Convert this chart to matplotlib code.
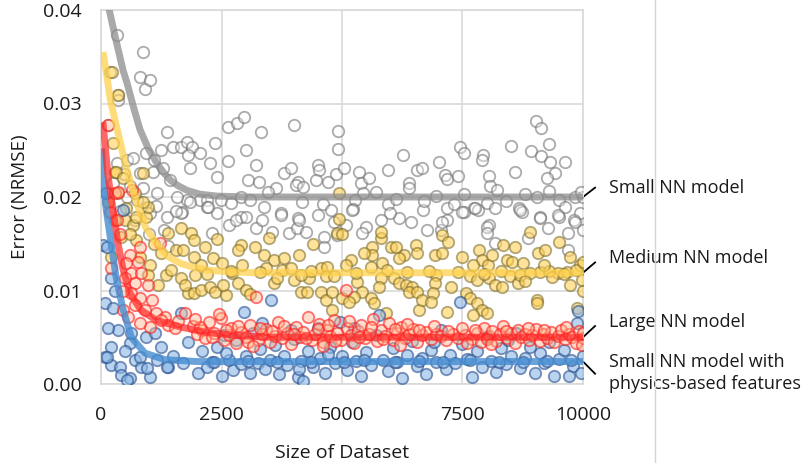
import numpy as np
import matplotlib
matplotlib.use("Agg")
import matplotlib.pyplot as plt
from matplotlib.lines import Line2D

plt.rcParams['font.family'] = ['Open Sans', 'DejaVu Sans']

# scatter data per model: (dataset size, NRMSE)
small_pts = [
    (150, 0.0277), (190, 0.0334), (330, 0.0373), (350, 0.0309), (350, 0.0304), (810, 0.0328),
    (875, 0.0355), (920, 0.0316), (1020, 0.0325), (1370, 0.0269), (935, 0.0247), (330, 0.0236),
    (540, 0.0240), (670, 0.0242), (810, 0.0226), (1080, 0.0227), (1290, 0.0231), (1440, 0.0218),
    (1500, 0.0254), (1650, 0.0254), (1790, 0.0259), (1890, 0.0254), (1810, 0.0245), (2060, 0.0247),
    (1850, 0.0231), (2375, 0.0258), (2625, 0.0275), (2830, 0.0279), (2960, 0.0286), (3310, 0.0270),
    (3000, 0.0250), (3210, 0.0234), (3040, 0.0218), (3270, 0.0216), (2270, 0.0236), (2410, 0.0221),
    (2625, 0.0238), (2060, 0.0197), (2190, 0.0197), (2480, 0.0197), (2690, 0.0194), (1790, 0.0197),
    (3625, 0.0210), (3790, 0.0226), (4000, 0.0277), (3940, 0.0231), (4080, 0.0216), (3460, 0.0205),
    (3375, 0.0189), (3730, 0.0183), (2900, 0.0179), (4080, 0.0178), (2410, 0.0183), (2190, 0.0189),
    (1580, 0.0200), (1690, 0.0184), (1370, 0.0179), (1020, 0.0183), (750, 0.0197), (875, 0.0210),
    (1160, 0.0204), (4920, 0.0271), (4920, 0.0251), (4040, 0.0213), (4190, 0.0211), (4500, 0.0234),
    (4520, 0.0229), (4460, 0.0218), (4710, 0.0216), (4880, 0.0225), (5040, 0.0231), (5350, 0.0227),
    (5400, 0.0215), (5560, 0.0220), (5440, 0.0204), (5270, 0.0197), (5960, 0.0229), (6270, 0.0245),
    (6400, 0.0215), (6400, 0.0210), (6560, 0.0229), (6650, 0.0231), (7020, 0.0237), (7130, 0.0224),
    (7170, 0.0219), (7400, 0.0222), (7440, 0.0254), (7540, 0.0247), (7920, 0.0245), (7900, 0.0240),
    (8040, 0.0222), (8080, 0.0212), (8210, 0.0207), (8500, 0.0255), (8580, 0.0227), (8920, 0.0249),
    (9020, 0.0281), (9120, 0.0274), (9120, 0.0244), (9290, 0.0257), (9310, 0.0237), (9420, 0.0226),
    (9250, 0.0220), (9620, 0.0237), (9290, 0.0206), (9040, 0.0200), (9830, 0.0200), (6940, 0.0201),
    (7540, 0.0203), (5960, 0.0193), (6120, 0.0198), (4170, 0.0195), (4600, 0.0193), (4500, 0.0181),
    (4770, 0.0186), (5230, 0.0187), (4830, 0.0173), (6190, 0.0178), (6440, 0.0173), (6690, 0.0186),
    (7170, 0.0188), (7330, 0.0193), (7540, 0.0184), (7730, 0.0188), (7830, 0.0186), (8000, 0.0194),
    (8170, 0.0188), (8670, 0.0188), (8730, 0.0184), (9100, 0.0179), (9500, 0.0197), (9620, 0.0189),
    (9500, 0.0179), (9940, 0.0183), (9810, 0.0175), (8040, 0.0170), (7170, 0.0175), (1660, 0.0183),
    (2650, 0.0170), (2810, 0.0175), (3000, 0.0179), (3210, 0.0167), (2230, 0.0189), (1850, 0.0195),
    (3730, 0.0181), (3900, 0.0162), (4060, 0.0167), (4250, 0.0163), (4100, 0.0175), (3330, 0.0175),
    (4630, 0.0157), (4630, 0.0147), (4900, 0.0159), (5500, 0.0168), (5420, 0.0162), (5080, 0.0170),
    (5210, 0.0186), (6770, 0.0165), (7060, 0.0165), (7080, 0.0173), (7500, 0.0184), (8000, 0.0168),
    (8000, 0.0162), (8170, 0.0151), (7750, 0.0188), (9100, 0.0178), (9270, 0.0167), (9480, 0.0181),
    (9690, 0.0162), (9830, 0.0173), (10000, 0.0165), (8690, 0.0186), (9690, 0.0143), (8850, 0.0156),
    (400, 0.0185), (530, 0.0200), (700, 0.0175), (1000, 0.0160), (1150, 0.0190), (1300, 0.0165),
    (1400, 0.0148), (1550, 0.0185), (600, 0.0212), (250, 0.0215), (1250, 0.0250), (1100, 0.0240),
    (470, 0.0225), (2900, 0.0200), (3100, 0.0197), (5700, 0.0205), (6000, 0.0183), (6700, 0.0196),
    (8400, 0.0196), (8800, 0.0203), (10000, 0.0200), (9950, 0.0205), (5800, 0.0175), (3550, 0.0163),
    (2300, 0.0162),
]

medium_pts = [
    (230, 0.0334), (350, 0.0309), (290, 0.0227), (875, 0.0226), (250, 0.0258), (320, 0.0227),
    (520, 0.0188), (500, 0.0175), (670, 0.0170), (730, 0.0179), (940, 0.0179), (980, 0.0189),
    (1400, 0.0162), (1350, 0.0117), (1560, 0.0143), (1020, 0.0127), (980, 0.0117), (1190, 0.0106),
    (410, 0.0157), (210, 0.0136), (730, 0.0154), (810, 0.0136), (350, 0.0204), (710, 0.0204),
    (1460, 0.0122), (150, 0.0195), (450, 0.0220), (600, 0.0160), (1100, 0.0150), (1250, 0.0140),
    (880, 0.0195), (300, 0.0175), (1660, 0.0167), (1875, 0.0162), (1920, 0.0154), (1710, 0.0143),
    (1920, 0.0136), (1660, 0.0113), (2080, 0.0127), (2330, 0.0135), (2500, 0.0129), (2900, 0.0149),
    (2850, 0.0143), (2920, 0.0127), (2710, 0.0119), (1810, 0.0097), (1920, 0.0097), (2080, 0.0101),
    (2270, 0.0104), (2375, 0.0098), (2600, 0.0095), (2540, 0.0106), (2850, 0.0108), (3000, 0.0101),
    (1750, 0.0106), (3100, 0.0096), (3480, 0.0156), (3375, 0.0138), (3580, 0.0133), (3790, 0.0135),
    (4100, 0.0138), (3420, 0.0124), (3750, 0.0122), (3940, 0.0124), (3580, 0.0108), (3650, 0.0113),
    (4000, 0.0111), (4310, 0.0113), (4150, 0.0117), (4560, 0.0124), (4690, 0.0125), (4670, 0.0115),
    (4830, 0.0115), (4150, 0.0098), (4270, 0.0098), (4560, 0.0098), (4670, 0.0090), (4790, 0.0098),
    (4790, 0.0079), (4940, 0.0204), (4940, 0.0176), (4900, 0.0162), (5000, 0.0160), (5620, 0.0147),
    (5810, 0.0156), (5620, 0.0138), (6020, 0.0147), (6120, 0.0146), (6290, 0.0138), (6190, 0.0135),
    (6540, 0.0149), (6560, 0.0140), (5190, 0.0133), (5080, 0.0127), (5600, 0.0125), (5830, 0.0129),
    (5940, 0.0122), (5810, 0.0113), (5770, 0.0104), (6080, 0.0113), (6190, 0.0108), (6330, 0.0106),
    (6460, 0.0104), (6400, 0.0098), (6560, 0.0098), (5310, 0.0109), (5420, 0.0098), (5250, 0.0093),
    (5000, 0.0092), (5150, 0.0088), (5600, 0.0092), (5670, 0.0087), (5920, 0.0076), (6600, 0.0079),
    (5810, 0.0163), (7080, 0.0159), (7190, 0.0152), (6920, 0.0138), (7080, 0.0140), (7500, 0.0136),
    (7850, 0.0143), (7900, 0.0133), (7710, 0.0127), (8020, 0.0127), (8120, 0.0138), (7650, 0.0115),
    (7810, 0.0111), (8060, 0.0113), (8170, 0.0106), (6960, 0.0117), (6920, 0.0108), (6880, 0.0097),
    (7270, 0.0104), (6670, 0.0090), (6850, 0.0088), (7170, 0.0077), (7580, 0.0097), (7650, 0.0092),
    (7810, 0.0087), (7900, 0.0079), (8000, 0.0076), (7710, 0.0074), (8580, 0.0146), (8420, 0.0133),
    (8520, 0.0131), (8750, 0.0129), (9060, 0.0140), (9210, 0.0143), (9730, 0.0136), (9940, 0.0127),
    (8480, 0.0115), (8650, 0.0108), (8690, 0.0117), (9100, 0.0120), (9480, 0.0119), (9670, 0.0120),
    (9730, 0.0106), (9980, 0.0111), (8310, 0.0104), (9040, 0.0090), (9040, 0.0087), (9870, 0.0081),
    (3300, 0.0120), (4350, 0.0121), (5300, 0.0119), (6800, 0.0121), (7400, 0.0120), (8300, 0.0121),
    (8900, 0.0119), (9300, 0.0121), (9600, 0.0118), (9850, 0.0122), (2200, 0.0118), (2700, 0.0121),
    (1950, 0.0117), (6350, 0.0120), (7950, 0.0118), (8800, 0.0110), (9350, 0.0114), (9200, 0.0127),
    (2400, 0.0155), (3200, 0.0146), (2150, 0.0146), (5450, 0.0140), (4400, 0.0150), (8350, 0.0149),
    (9500, 0.0152), (8900, 0.0163), (10000, 0.0100), (10000, 0.0131),
]

large_pts = [
    (150, 0.0277), (650, 0.0207), (290, 0.0204), (190, 0.0184), (350, 0.0205), (1230, 0.0151),
    (810, 0.0147), (600, 0.0138), (520, 0.0129), (770, 0.0130), (210, 0.0124), (630, 0.0119),
    (830, 0.0119), (980, 0.0106), (500, 0.0113), (710, 0.0108), (630, 0.0097), (810, 0.0092),
    (460, 0.0079), (560, 0.0072), (920, 0.0079), (1150, 0.0076), (1330, 0.0072), (1400, 0.0063),
    (1540, 0.0060), (1020, 0.0061), (810, 0.0065), (400, 0.0160), (330, 0.0175), (450, 0.0100),
    (700, 0.0085), (1050, 0.0090), (1250, 0.0068), (1600, 0.0067), (1750, 0.0076), (1900, 0.0062),
    (2100, 0.0058), (2000, 0.0053), (2150, 0.0049), (2250, 0.0066), (2350, 0.0055), (2480, 0.0071),
    (2550, 0.0047), (2650, 0.0052), (2700, 0.0060), (2800, 0.0044), (2900, 0.0056), (3000, 0.0050),
    (3100, 0.0063), (3210, 0.0093), (3250, 0.0047), (3350, 0.0054), (3420, 0.0059), (3500, 0.0045),
    (3600, 0.0051), (3680, 0.0066), (3750, 0.0049), (3850, 0.0055), (3950, 0.0043), (4050, 0.0061),
    (4120, 0.0050), (4200, 0.0056), (4300, 0.0072), (4380, 0.0047), (4450, 0.0053), (4520, 0.0064),
    (4600, 0.0045), (4680, 0.0058), (4750, 0.0051), (4830, 0.0068), (4900, 0.0055), (4980, 0.0047),
    (5080, 0.0101), (5100, 0.0060), (5180, 0.0052), (5250, 0.0044), (5330, 0.0057), (5400, 0.0063),
    (5480, 0.0049), (5550, 0.0054), (5650, 0.0070), (5720, 0.0046), (5800, 0.0058), (5900, 0.0051),
    (5980, 0.0065), (6050, 0.0047), (6150, 0.0055), (6230, 0.0061), (6300, 0.0049), (6400, 0.0053),
    (6480, 0.0059), (6550, 0.0045), (6650, 0.0052), (6750, 0.0056), (6850, 0.0048), (6950, 0.0054),
    (7050, 0.0051), (7150, 0.0047), (7300, 0.0053), (7400, 0.0049), (7550, 0.0052), (7700, 0.0048),
    (7800, 0.0055), (7880, 0.0045), (7950, 0.0060), (8050, 0.0051), (8120, 0.0057), (8200, 0.0046),
    (8280, 0.0053), (8350, 0.0062), (8430, 0.0049), (8500, 0.0055), (8580, 0.0044), (8650, 0.0058),
    (8720, 0.0050), (8800, 0.0054), (8880, 0.0047), (8950, 0.0052), (9030, 0.0059), (9100, 0.0046),
    (9180, 0.0053), (9250, 0.0049), (9330, 0.0056), (9400, 0.0045), (9480, 0.0051), (9550, 0.0058),
    (9630, 0.0048), (9700, 0.0054), (9780, 0.0050), (9850, 0.0044), (9920, 0.0057), (10000, 0.0049),
    (9970, 0.0042), (2050, 0.0061), (2300, 0.0050), (2600, 0.0058), (2850, 0.0062), (3050, 0.0045),
    (3300, 0.0060), (3550, 0.0057), (3800, 0.0062), (4000, 0.0053), (4250, 0.0049), (4500, 0.0059),
    (4700, 0.0063), (4850, 0.0046), (5150, 0.0067), (5350, 0.0050), (5600, 0.0061), (5850, 0.0048),
    (6100, 0.0059), (6350, 0.0064), (6600, 0.0058), (6900, 0.0062), (7200, 0.0057), (7500, 0.0060),
    (7750, 0.0058), (8000, 0.0048), (8400, 0.0057), (8850, 0.0060), (9200, 0.0058), (9650, 0.0061),
    (10000, 0.0055), (7600, 0.0044), (8100, 0.0043), (6200, 0.0042), (4600, 0.0041), (3150, 0.0041),
    (2450, 0.0075), (1950, 0.0070),
]

physics_pts = [
    (40, 0.0149), (120, 0.0147), (210, 0.0113), (80, 0.0087), (250, 0.0081), (350, 0.0058),
    (600, 0.0044), (210, 0.0040), (80, 0.0029), (210, 0.0020), (400, 0.0018), (420, 0.0010),
    (600, 0.0006), (710, 0.0026), (830, 0.0018), (1020, 0.0007), (940, 0.0050), (1120, 0.0055),
    (1400, 0.0018), (630, 0.0055), (460, 0.0186), (110, 0.0204), (120, 0.0029), (540, 0.0004),
    (810, 0.0029), (960, 0.0017), (1160, 0.0026), (1370, 0.0018), (1650, 0.0076), (1710, 0.0022),
    (2020, 0.0012), (2310, 0.0024), (2650, 0.0026), (2730, 0.0015), (2960, 0.0077), (3250, 0.0022),
    (3520, 0.0090), (4080, 0.0007), (3940, 0.0058), (7440, 0.0088), (9870, 0.0065), (5770, 0.0074),
    (300, 0.0100), (150, 0.0060), (500, 0.0035), (1250, 0.0040), (1500, 0.0030), (1800, 0.0045),
    (2100, 0.0035), (2200, 0.0018), (2400, 0.0040), (2500, 0.0009), (2600, 0.0033), (2800, 0.0047),
    (2900, 0.0021), (3000, 0.0030), (3100, 0.0012), (3150, 0.0055), (3300, 0.0037), (3400, 0.0016),
    (3500, 0.0026), (3600, 0.0042), (3700, 0.0011), (3800, 0.0030), (3850, 0.0020), (4000, 0.0048),
    (4150, 0.0025), (4200, 0.0003), (4300, 0.0035), (4400, 0.0018), (4500, 0.0060), (4550, 0.0028),
    (4650, 0.0012), (4750, 0.0040), (4850, 0.0022), (4950, 0.0066), (5000, 0.0030), (5100, 0.0015),
    (5200, 0.0045), (5300, 0.0025), (5400, 0.0009), (5500, 0.0034), (5600, 0.0020), (5700, 0.0052),
    (5850, 0.0026), (5950, 0.0014), (6050, 0.0038), (6150, 0.0023), (6250, 0.0006), (6350, 0.0031),
    (6450, 0.0046), (6550, 0.0019), (6650, 0.0028), (6750, 0.0011), (6850, 0.0036), (6950, 0.0024),
    (7050, 0.0058), (7150, 0.0016), (7250, 0.0031), (7350, 0.0022), (7500, 0.0043), (7600, 0.0027),
    (7700, 0.0008), (7800, 0.0035), (7900, 0.0018), (8000, 0.0050), (8100, 0.0025), (8200, 0.0013),
    (8300, 0.0038), (8400, 0.0021), (8500, 0.0030), (8600, 0.0055), (8700, 0.0017), (8800, 0.0028),
    (8900, 0.0040), (9000, 0.0012), (9100, 0.0033), (9200, 0.0022), (9300, 0.0045), (9400, 0.0009),
    (9500, 0.0027), (9600, 0.0036), (9700, 0.0009), (9800, 0.0019), (9900, 0.0078), (10000, 0.0030),
    (9950, 0.0012), (2350, 0.0024), (3050, 0.0025), (3650, 0.0023), (4350, 0.0024), (5050, 0.0023),
    (5450, 0.0026), (6100, 0.0024), (6600, 0.0025), (7100, 0.0023), (7650, 0.0026), (8250, 0.0024),
    (8750, 0.0023), (9250, 0.0025), (9750, 0.0026), (4100, 0.0016), (4700, 0.0032), (6900, 0.0045),
    (8450, 0.0047), (5250, 0.0060), (3350, 0.0065), (2550, 0.0052),
]

# fitted trend curves (dataset size, NRMSE)
small_fit = [(100, 0.0425), (150, 0.0405), (300, 0.0370), (460, 0.0335), (540, 0.0322),
             (680, 0.0295), (810, 0.0272), (980, 0.0252), (1160, 0.0236), (1300, 0.0226),
             (1440, 0.0218), (1600, 0.0212), (1790, 0.0207), (2050, 0.0203), (2400, 0.0201),
             (3000, 0.0200), (10000, 0.0200)]
medium_fit = [(40, 0.0355), (120, 0.0330), (190, 0.0305), (300, 0.0280), (410, 0.0256),
              (500, 0.0236), (600, 0.0218), (730, 0.0195), (920, 0.0168), (1150, 0.0150),
              (1400, 0.0136), (1650, 0.0129), (1900, 0.0125), (2200, 0.0122), (2600, 0.0120),
              (3200, 0.0119), (10000, 0.0119)]
large_fit = [(40, 0.0280), (80, 0.0258), (150, 0.0221), (250, 0.0186), (350, 0.0151),
             (460, 0.0122), (600, 0.0097), (830, 0.0079), (1150, 0.0068), (1650, 0.0061),
             (2200, 0.0055), (2800, 0.0052), (3500, 0.0050), (10000, 0.0050)]
physics_fit = [(15, 0.0252), (40, 0.0222), (110, 0.0186), (210, 0.0151), (310, 0.0115),
               (460, 0.0079), (630, 0.0050), (910, 0.0033), (1330, 0.0026), (2000, 0.0024),
               (10000, 0.0024)]

series = [
    # points, fit, face, edge, line colour
    (small_pts, small_fit, (1, 1, 1, 0.35), (0.45, 0.45, 0.45, 0.6), (0.55, 0.55, 0.55, 0.75)),
    (medium_pts, medium_fit, (1.0, 0.82, 0.35, 0.6), (0.45, 0.40, 0.15, 0.55), (1.0, 0.82, 0.30, 0.75)),
    (physics_pts, physics_fit, (0.55, 0.72, 0.90, 0.6), (0.15, 0.30, 0.55, 0.6), (0.27, 0.55, 0.82, 0.8)),
    (large_pts, large_fit, (1.0, 0.70, 0.55, 0.45), (1.0, 0.1, 0.1, 0.6), (1.0, 0.15, 0.15, 0.7)),
]

fig = plt.figure(figsize=(8.04, 4.63), dpi=100)
ax = fig.add_axes([101 / 804, 1 - 384 / 463, 482 / 804, 374 / 463])

for pts, fit, face, edge, lc in series:
    x, y = np.array(pts).T
    ax.scatter(x, y, s=68, facecolors=[face], edgecolors=[edge], linewidths=1.3, zorder=3)
    fx, fy = np.array(fit).T
    ax.plot(fx, fy, color=lc, lw=5, solid_capstyle='butt', zorder=4)

ax.set_xlim(0, 10000)
ax.set_ylim(0, 0.04)
ax.set_xticks([0, 2500, 5000, 7500, 10000])
ax.set_yticks([0, 0.01, 0.02, 0.03, 0.04])
ax.set_yticklabels(['0.00', '0.01', '0.02', '0.03', '0.04'])
ax.tick_params(length=0, labelsize=14, colors='#1a1a1a')
ax.tick_params(axis='x', pad=16)
ax.tick_params(axis='y', pad=14)
ax.grid(True, color='#d9d9d9', lw=1.2, zorder=0)
ax.set_axisbelow(True)
for sp in ax.spines.values():
    sp.set_color('#d9d9d9')
    sp.set_linewidth(1.2)

ax.set_xlabel('Size of Dataset', fontsize=14, color='#1a1a1a', labelpad=14)
ax.set_ylabel('Error (NRMSE)', fontsize=13.5, color='#1a1a1a', labelpad=10)

# model labels with leader lines
labels = [
    ('Small NN model', 0.0200, 0.0210, 0.0210),
    ('Medium NN model', 0.0119, 0.0130, 0.0135),
    ('Large NN model', 0.0050, 0.0062, 0.0066),
    ('Small NN model with\nphysics-based features', 0.0024, 0.0011, 0.0012),
]
for text, y0, y1, ty in labels:
    ax.add_line(Line2D([10000, 10250], [y0, y1], color='black', lw=1.3, clip_on=False))
    ax.text(10530, ty, text, fontsize=13, color='#1a1a1a', va='center', ha='left',
            linespacing=1.25, clip_on=False)

fig.add_artist(Line2D([655 / 804, 655 / 804], [0, 1], color='#d4d4d4', lw=1))

fig.savefig('out.png', dpi=100)
